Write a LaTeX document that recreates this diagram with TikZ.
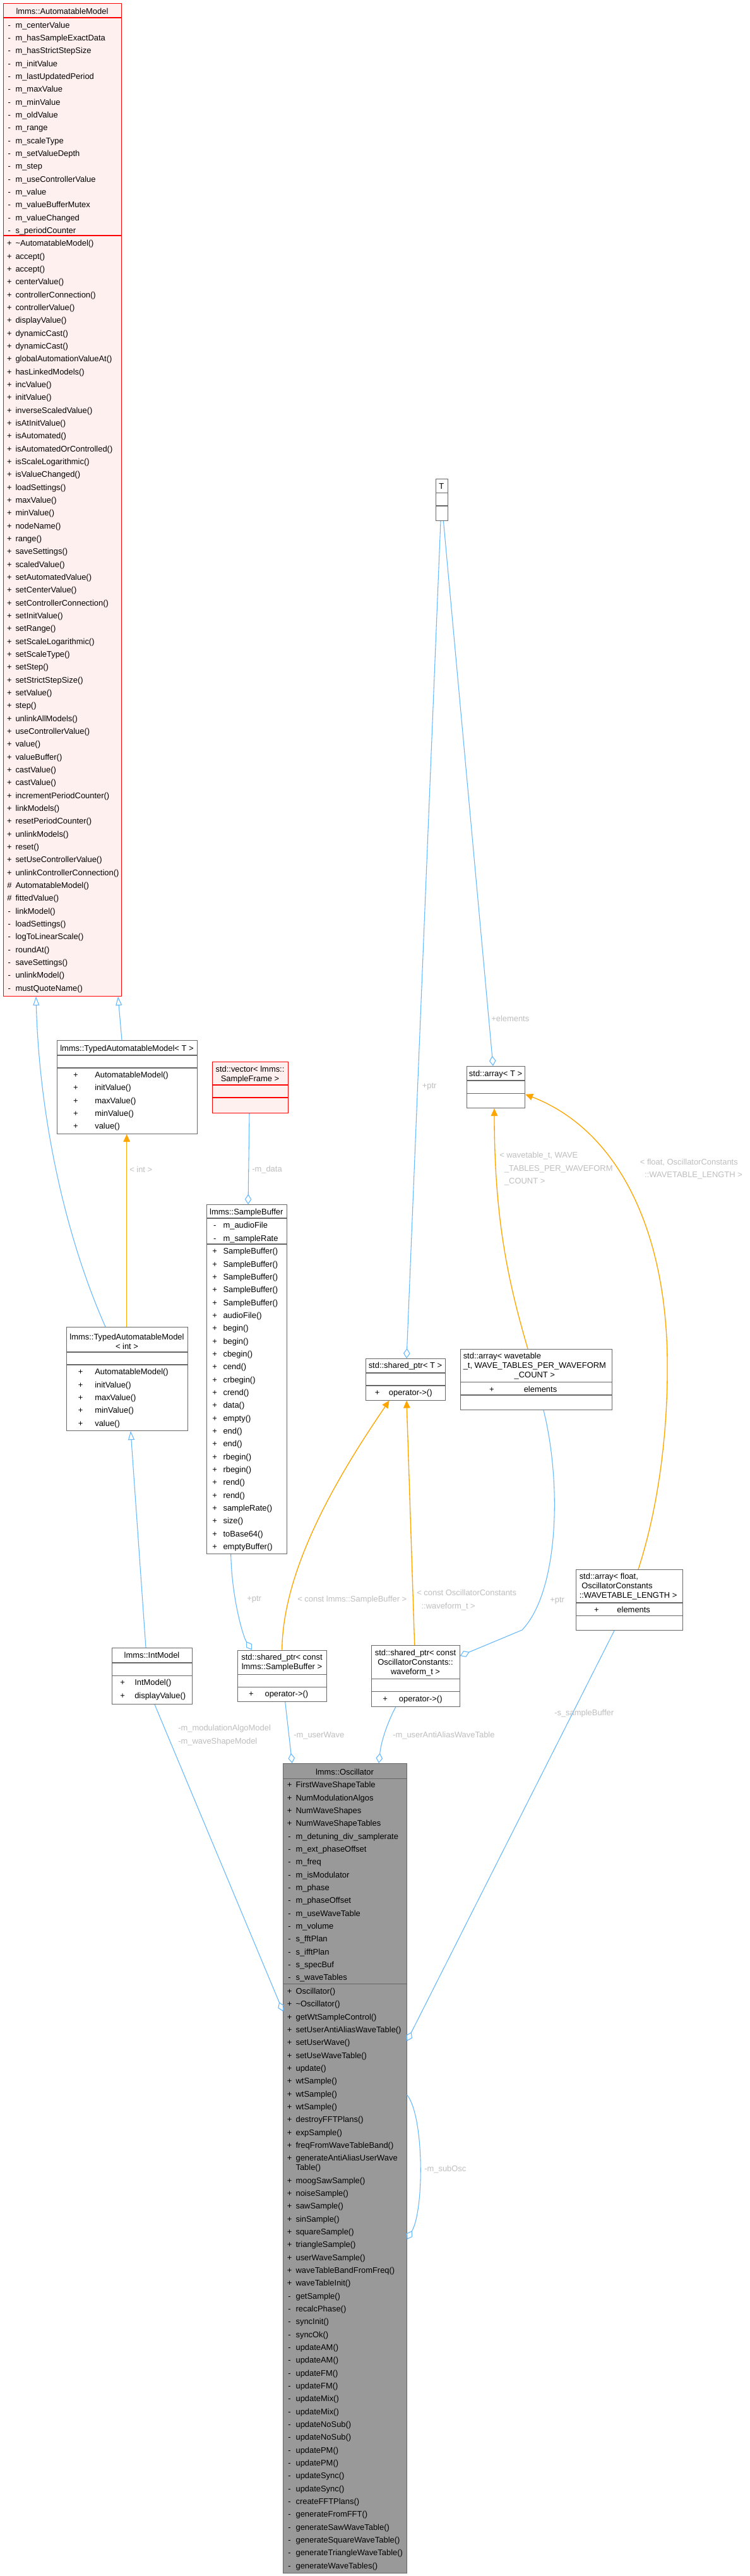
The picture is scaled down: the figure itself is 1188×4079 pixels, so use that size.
\documentclass[tikz,border=0pt]{standalone}
\usepackage{fontspec}
\setmainfont{Liberation Sans}
\usepackage{array}
\usetikzlibrary{arrows.meta,calc}
\definecolor{dxblue}{HTML}{63B8FF}
\definecolor{dxorange}{HTML}{FFA500}
\definecolor{dxred}{HTML}{FF0000}
\definecolor{dxpink}{HTML}{FFF0F0}
\definecolor{dxgray}{HTML}{666666}
\definecolor{dxfocus}{HTML}{999999}
\definecolor{dxlabel}{HTML}{BEBEBE}
\newcommand\frow{\fontsize{9.7}{15.25}\selectfont}
\newcommand\fttl{\fontsize{9.7}{11.25}\selectfont}
\newcommand\flab{\fontsize{9.7}{15.4}\selectfont}
\newcommand\xp[1]{+ & #1\\}
\newcommand\xm[1]{- & #1\\}
\newcommand\xh[1]{\# & #1\\}
% class box: name, style, x1, y1, x2, y2, separator ys
\newcommand\cbox[7]{%
  \node[#2, anchor=north west, minimum width={(#5-#3)*0.75pt}, minimum height={(#6-#4)*0.75pt}] (#1) at (#3,#4) {};
  \foreach \yy in {#7} {\draw[#2, fill=none] (#3,\yy) -- (#5,\yy);}
}
% member list: name, x of marker column, y of first row centre, gap, rows
\newcommand\members[5]{%
  \node[anchor=north west, inner sep=0pt, font=\frow] (#1) at (#2,#3-9.6)
   {\begin{tabular}{@{}w{c}{5.7pt}@{\hspace{#4}}l@{}}#5\end{tabular}};
}
\tikzset{
  boxred/.style={draw=dxred, fill=dxpink, line width=0.8pt, inner sep=0pt},
  boxgray/.style={draw=dxgray, fill=white, line width=0.8pt, inner sep=0pt},
  boxfocus/.style={draw=dxgray, fill=dxfocus, line width=0.8pt, inner sep=0pt},
  inh/.style={draw=dxblue, line width=0.8pt, -{Triangle[open, length=10.5pt, width=7.5pt]}},
  agg/.style={draw=dxblue, line width=0.8pt, -{Diamond[open, length=12pt, width=8pt]}},
  tmpl/.style={draw=dxorange, fill=none, line width=1pt, -{Triangle[length=9pt, width=8pt, fill=dxorange]}},
  elabel/.style={text=dxlabel, font=\flab, inner sep=0pt, anchor=west, align=left},
  ttl/.style={font=\fttl, inner sep=0pt, align=center},
}
\begin{document}
\begin{tikzpicture}[x=0.75pt, y=-0.75pt]
\fill[white] (0,0) rectangle (1188,4079);
\useasboundingbox (0,0) rectangle (1188,4079);

% ---------- boxes ----------
\cbox{am}{boxred}{5}{5}{192}{1577}{28,373}
\node[ttl] (amt) at (98.5,18) {lmms::AutomatableModel};
\members{ama}{10.8}{39.3}{4.4pt}{\xm{m\_centerValue}\xm{m\_hasSampleExactData}\xm{m\_hasStrictStepSize}\xm{m\_initValue}\xm{m\_lastUpdatedPeriod}\xm{m\_maxValue}\xm{m\_minValue}\xm{m\_oldValue}\xm{m\_range}\xm{m\_scaleType}\xm{m\_setValueDepth}\xm{m\_step}\xm{m\_useControllerValue}\xm{m\_value}\xm{m\_valueBufferMutex}\xm{m\_valueChanged}\xm{s\_periodCounter}}
\members{amm}{10.8}{385}{4.4pt}{\xp{\textasciitilde AutomatableModel()}\xp{accept()}\xp{accept()}\xp{centerValue()}\xp{controllerConnection()}\xp{controllerValue()}\xp{displayValue()}\xp{dynamicCast()}\xp{dynamicCast()}\xp{globalAutomationValueAt()}\xp{hasLinkedModels()}\xp{incValue()}\xp{initValue()}\xp{inverseScaledValue()}\xp{isAtInitValue()}\xp{isAutomated()}\xp{isAutomatedOrControlled()}\xp{isScaleLogarithmic()}\xp{isValueChanged()}\xp{loadSettings()}\xp{maxValue()}\xp{minValue()}\xp{nodeName()}\xp{range()}\xp{saveSettings()}\xp{scaledValue()}\xp{setAutomatedValue()}\xp{setCenterValue()}\xp{setControllerConnection()}\xp{setInitValue()}\xp{setRange()}\xp{setScaleLogarithmic()}\xp{setScaleType()}\xp{setStep()}\xp{setStrictStepSize()}\xp{setValue()}\xp{step()}\xp{unlinkAllModels()}\xp{useControllerValue()}\xp{value()}\xp{valueBuffer()}\xp{castValue()}\xp{castValue()}\xp{incrementPeriodCounter()}\xp{linkModels()}\xp{resetPeriodCounter()}\xp{unlinkModels()}\xp{reset()}\xp{setUseControllerValue()}\xp{unlinkControllerConnection()}\xh{AutomatableModel()}\xh{fittedValue()}\xm{linkModel()}\xm{loadSettings()}\xm{logToLinearScale()}\xm{roundAt()}\xm{saveSettings()}\xm{unlinkModel()}\xm{mustQuoteName()}}

\cbox{tamT}{boxgray}{90}{1647}{312}{1795}{1671,1691}
\node[ttl] (tamTt) at (201,1661) {lmms::TypedAutomatableModel< T >};
\members{tamTm}{115.9}{1701.7}{19.9pt}{\xp{AutomatableModel()}\xp{initValue()}\xp{maxValue()}\xp{minValue()}\xp{value()}}

\cbox{vec}{boxred}{336}{1681}{456}{1762}{1718,1738}
\node[ttl] (vect) at (396,1701.5) {std::vector< lmms::\\SampleFrame >};

\cbox{tamI}{boxgray}{105}{2101}{297}{2265}{2141,2161}
\node[ttl] (tamIt) at (201,2124) {lmms::TypedAutomatableModel\\< int >};
\members{tamIm}{123.5}{2172}{14.2pt}{\xp{AutomatableModel()}\xp{initValue()}\xp{maxValue()}\xp{minValue()}\xp{value()}}

\cbox{sb}{boxgray}{326.7}{1907}{454}{2460}{1929,1970}
\node[ttl] (sbt) at (390.3,1920) {lmms::SampleBuffer};
\members{sba}{336.2}{1940}{7.1pt}{\xm{m\_audioFile}\xm{m\_sampleRate}}
\members{sbm}{336.2}{1981}{7.1pt}{\xp{SampleBuffer()}\xp{SampleBuffer()}\xp{SampleBuffer()}\xp{SampleBuffer()}\xp{SampleBuffer()}\xp{audioFile()}\xp{begin()}\xp{begin()}\xp{cbegin()}\xp{cend()}\xp{crbegin()}\xp{crend()}\xp{data()}\xp{empty()}\xp{end()}\xp{end()}\xp{rbegin()}\xp{rbegin()}\xp{rend()}\xp{rend()}\xp{sampleRate()}\xp{size()}\xp{toBase64()}\xp{emptyBuffer()}}

\cbox{T}{boxgray}{690}{757.6}{708.7}{824}{780.6,801}
\node[ttl] (Tt) at (699.3,770) {T};

\cbox{arrT}{boxgray}{738.7}{1687.8}{831}{1754}{1711,1731.6}
\node[ttl] (arrTt) at (785,1701) {std::array< T >};

\cbox{spT}{boxgray}{579}{2151}{705}{2216.5}{2174,2194}
\node[ttl] (spTt) at (642,2163.5) {std::shared\_ptr< T >};
\members{spTm}{593.5}{2205}{10.95pt}{\xp{operator->()}}

\cbox{arrW}{boxgray}{728.6}{2135.7}{969}{2232}{2188.8,2209}
\node[ttl, anchor=west] (arrWt) at (733.5,2163.5) {\begin{tabular}{@{}l@{}}std::array< wavetable\\\_t, WAVE\_TABLES\_PER\_WAVEFORM\\\multicolumn{1}{@{}c@{}}{\_COUNT >}\end{tabular}};
\members{arrWa}{774.9}{2199.5}{35.25pt}{\xp{elements}}

\cbox{arrF}{boxgray}{912.3}{2485}{1081}{2581}{2538,2558.7}
\node[ttl, anchor=west] (arrFt) at (917.5,2512.5) {\begin{tabular}{@{}l@{}}std::array< float,\\~OscillatorConstants\\::WAVETABLE\_LENGTH >\end{tabular}};
\members{arrFa}{940.8}{2549}{21.6pt}{\xp{elements}}

\cbox{spSB}{boxgray}{376}{2612.5}{517}{2694}{2651,2671}
\node[ttl] (spSBt) at (446.5,2633) {std::shared\_ptr< const\\lmms::SampleBuffer >};
\members{spSBm}{393.9}{2682}{13.35pt}{\xp{operator->()}}

\cbox{spOC}{boxgray}{588}{2605}{727.7}{2702}{2658,2678.6}
\node[ttl] (spOCt) at (658,2633) {std::shared\_ptr< const\\OscillatorConstants::\\waveform\_t >};
\members{spOCm}{606.2}{2689.7}{13.4pt}{\xp{operator->()}}

\cbox{im}{boxgray}{177}{2609}{304}{2698}{2633,2653}
\node[ttl] (imt) at (240.5,2621) {lmms::IntModel};
\members{imm}{190.2}{2664}{11.4pt}{\xp{IntModel()}\xp{displayValue()}}

\cbox{osc}{boxfocus}{448.3}{2792}{643.5}{4074}{2816.5,3141}
\node[ttl] (osct) at (546,2805.5) {lmms::Oscillator};
\members{osca}{454.5}{2826}{4.65pt}{\xp{FirstWaveShapeTable}\xp{NumModulationAlgos}\xp{NumWaveShapes}\xp{NumWaveShapeTables}\xm{m\_detuning\_div\_samplerate}\xm{m\_ext\_phaseOffset}\xm{m\_freq}\xm{m\_isModulator}\xm{m\_phase}\xm{m\_phaseOffset}\xm{m\_useWaveTable}\xm{m\_volume}\xm{s\_fftPlan}\xm{s\_ifftPlan}\xm{s\_specBuf}\xm{s\_waveTables}}
\members{oscm}{454.5}{3152.6}{4.65pt}{\xp{Oscillator()}\xp{\textasciitilde Oscillator()}\xp{getWtSampleControl()}\xp{setUserAntiAliasWaveTable()}\xp{setUserWave()}\xp{setUseWaveTable()}\xp{update()}\xp{wtSample()}\xp{wtSample()}\xp{wtSample()}\xp{destroyFFTPlans()}\xp{expSample()}\xp{freqFromWaveTableBand()}+ & generateAntiAliasUserWave\\[-4pt] & Table()\\\xp{moogSawSample()}\xp{noiseSample()}\xp{sawSample()}\xp{sinSample()}\xp{squareSample()}\xp{triangleSample()}\xp{userWaveSample()}\xp{waveTableBandFromFreq()}\xp{waveTableInit()}\xm{getSample()}\xm{recalcPhase()}\xm{syncInit()}\xm{syncOk()}\xm{updateAM()}\xm{updateAM()}\xm{updateFM()}\xm{updateFM()}\xm{updateMix()}\xm{updateMix()}\xm{updateNoSub()}\xm{updateNoSub()}\xm{updatePM()}\xm{updatePM()}\xm{updateSync()}\xm{updateSync()}\xm{createFFTPlans()}\xm{generateFromFFT()}\xm{generateSawWaveTable()}\xm{generateSquareWaveTable()}\xm{generateTriangleWaveTable()}\xm{generateWaveTables()}}

% ---------- connectors ----------
\draw[inh] ($(tamT.north west)+(103,0)$) -- ($(am.south west)+(182,0)$);
\draw[inh] ($(tamI.north west)+(62,0)$) .. controls (100,1950) and (62,1760) .. ($(am.south west)+(52,0)$);
\draw[tmpl] ($(tamI.north west)+(95.7,0)$) -- ($(tamT.south west)+(110.7,0)$);
\draw[inh] ($(im.north west)+(54,0)$) -- ($(tamI.south west)+(102,0)$);
\draw[agg] ($(vec.south west)+(59,0)$) -- ($(sb.north west)+(66.3,0)$);
\draw[agg] ($(sb.south west)+(39,0)$) .. controls (367,2530) and (385,2592) .. ($(spSB.north west)+(23,0)$);
\draw[agg] ($(T.south west)+(8,0)$) -- ($(spT.north west)+(65,0)$);
\draw[agg] ($(T.south west)+(12.4,0)$) -- ($(arrT.north west)+(42.3,0)$);
\draw[tmpl] ($(spSB.north west)+(70.7,0)$) .. controls (448,2480) and (540,2330) .. ($(spT.south west)+(37.7,0)$);
\draw[tmpl] ($(spOC.north west)+(68.7,0)$) -- ($(spT.south west)+(65,0)$);
\draw[tmpl] ($(arrW.north west)+(107.4,0)$) .. controls (805,2030) and (783,1930) .. ($(arrT.south west)+(44.3,0)$);
\draw[tmpl] ($(arrF.north west)+(98.7,0)$) .. controls (1045,2380) and (1058,2260) .. (1057,2157) .. controls (1056,1950) and (980,1790) .. ($(arrT.north east)+(0,45)$);
\draw[agg] ($(arrW.south west)+(132.4,0)$) .. controls (890,2350) and (885,2520) .. (827,2581) -- ($(spOC.north east)+(0,17)$);
\draw[agg] ($(spSB.south west)+(75.7,0)$) -- ($(osc.north west)+(14.4,0)$);
\draw[agg] ($(spOC.south west)+(38.7,0)$) .. controls (615,2725) and (604,2755) .. ($(osc.north west)+(151.7,0)$);
\draw[agg] ($(im.south west)+(68,0)$) -- ($(osc.north west)+(0,393)$);
\draw[agg] ($(arrF.south west)+(60.7,0)$) -- ($(osc.north east)+(0,440)$);
\draw[agg] ($(osc.north east)+(0,525)$) .. controls (672,3350) and (672,3500) .. ($(osc.north east)+(0,754)$);

% ---------- labels ----------
\node[elabel] (l1) at (205,1852) {< int >};
\node[elabel] (l2) at (399,1852) {-m\_data};
\node[elabel] (l3) at (668.6,1721) {+ptr};
\node[elabel] (l4) at (778,1613) {+elements};
\node[elabel] (l5) at (471,2533.5) {< const lmms::SampleBuffer >};
\node[elabel] (l6) at (660,2533.5) {< const OscillatorConstants\\\hspace*{5.5pt}::waveform\_t >};
\node[elabel] (l7) at (391,2533) {+ptr};
\node[elabel] (l8) at (791,1851) {< wavetable\_t, WAVE\\\hspace*{5.8pt}\_TABLES\_PER\_WAVEFORM\\\hspace*{5.8pt}\_COUNT >};
\node[elabel] (l9) at (1013.6,1851) {< float, OscillatorConstants\\\hspace*{5.5pt}::WAVETABLE\_LENGTH >};
\node[elabel] (l10) at (871,2535) {+ptr};
\node[elabel] (l11) at (465,2748) {-m\_userWave};
\node[elabel] (l12) at (622,2748) {-m\_userAntiAliasWaveTable};
\node[elabel] (l13) at (282,2747.5) {-m\_modulationAlgoModel\\-m\_waveShapeModel};
\node[elabel] (l14) at (878,2713) {-s\_sampleBuffer};
\node[elabel] (l15) at (672,3435) {-m\_subOsc};
\end{tikzpicture}
\end{document}
